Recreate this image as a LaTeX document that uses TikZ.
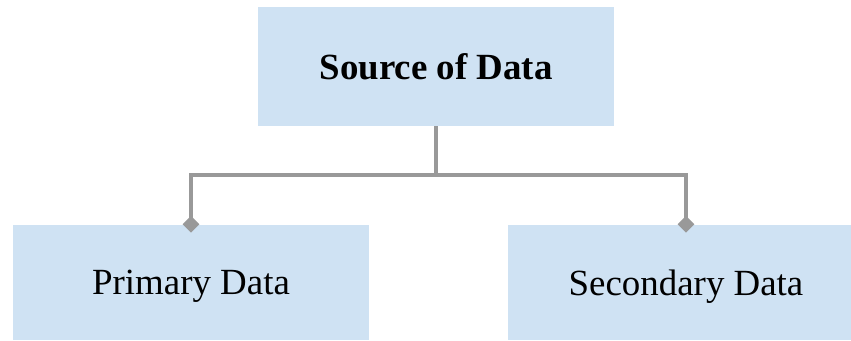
\documentclass[tikz,border=0pt]{standalone}
\usepackage{fontspec}
\setmainfont{Liberation Serif}
\usepackage{tikz}
\usetikzlibrary{arrows.meta}

\definecolor{boxblue}{HTML}{CFE2F3}
\definecolor{linegray}{HTML}{999999}

\begin{document}
\begin{tikzpicture}[x=0.02cm, y=-0.02cm]
      \useasboundingbox (0,0) rectangle (851,341);
      \clip (0,0) rectangle (851,341);
      \begin{scope}[every node/.style={fill=boxblue, inner sep=0pt, minimum width=7.12cm, font=\fontsize{21}{25}\selectfont}]
        \node[minimum height=2.38cm, font=\fontsize{21}{25}\selectfont\bfseries] (src) at (436,66.5) {Source of Data};
        \node[minimum height=2.3cm, text depth=0pt] (prim) at (191,282.5) {Primary Data};
        \node[minimum height=2.3cm, text depth=0pt] (sec) at (686,282.5) {Secondary Data};
      \end{scope}
      \coordinate (bar) at (436,175);
      \tikzset{link/.style={linegray, line width=2.1pt, shorten >=-4.5pt, -{Diamond[length=9.5pt, width=9.5pt]}}}
      \draw [link] (src.south) -- (bar) -| (prim.north);
      \draw [link] (bar) -| (sec.north);
    \end{tikzpicture}
\end{document}
